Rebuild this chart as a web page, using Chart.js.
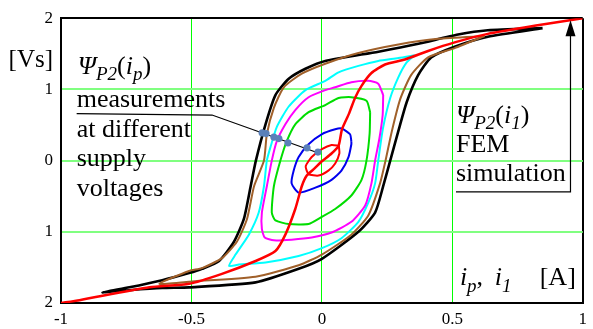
<!DOCTYPE html>
<html>
<head>
<meta charset="utf-8">
<script src="https://cdn.jsdelivr.net/npm/chart.js@4/dist/chart.umd.min.js"></script>
<style>
html,body{margin:0;padding:0;background:#fff;}
#wrap{width:593px;height:329px;position:relative;}
</style>
</head>
<body>
<div id="wrap"><canvas id="c" width="593" height="329"></canvas></div>
<script>
// ---- tick labels ----
const xTickLabels = ['-1', '-0.5', '0', '0.5', '1'];
const yTickLabels = ['2', '1', '0', '1', '2'];

// ---- measured hysteresis loops [i_p, psi] ----
const blackLoop = [[0.846,1.86],[0.636,1.83],[0.522,1.77],[0.370,1.64],[0.217,1.53],[0.013,1.40],[-0.063,1.29],[-0.127,1.15],[-0.178,0.92],[-0.216,0.51],[-0.253,0],[-0.273,-0.36],[-0.299,-0.82],[-0.337,-1.14],[-0.394,-1.41],[-0.459,-1.52],[-0.509,-1.58],[-0.612,-1.68],[-0.738,-1.78],[-0.841,-1.85],
  [-0.738,-1.82],[-0.612,-1.79],[-0.509,-1.78],[-0.254,-1.71],[-0.089,-1.52],[0,-1.38],[0.140,-1.00],[0.204,-0.73],[0.235,-0.36],[0.262,0],[0.292,0.40],[0.325,0.82],[0.369,1.20],[0.419,1.45],[0.509,1.60],[0.636,1.74],[0.846,1.86]];
const brownLoop = [[0.624,1.75],[0.445,1.71],[0.293,1.63],[0.140,1.51],[0.013,1.36],[-0.077,1.22],[-0.146,1.03],[-0.184,0.74],[-0.211,0.37],[-0.222,0],[-0.260,-0.36],[-0.287,-0.82],[-0.326,-1.14],[-0.383,-1.37],[-0.459,-1.51],[-0.509,-1.55],[-0.623,-1.73],
  [-0.509,-1.70],[-0.254,-1.63],[-0.089,-1.47],[0,-1.32],[0.113,-1.04],[0.178,-0.77],[0.223,-0.32],[0.244,0],[0.268,0.41],[0.300,0.86],[0.342,1.20],[0.407,1.45],[0.509,1.58],[0.624,1.75]];
const cyanLoop = [[0.356,1.48],[0.293,1.44],[0.216,1.40],[0.140,1.33],[0.064,1.24],[0.013,1.12],[-0.063,0.99],[-0.127,0.76],[-0.173,0.47],[-0.197,0.19],[-0.211,0],[-0.222,-0.36],[-0.242,-0.73],[-0.280,-1.04],[-0.331,-1.32],[-0.356,-1.48],
  [-0.318,-1.46],[-0.216,-1.43],[-0.089,-1.34],[0,-1.23],[0.075,-1.09],[0.140,-0.86],[0.178,-0.59],[0.204,-0.32],[0.216,0],[0.234,0.45],[0.262,0.88],[0.293,1.17],[0.323,1.37],[0.356,1.48]];
const magentaLoop = [[0.235,0.92],[0.216,1.08],[0.178,1.12],[0.113,1.10],[0.051,1.03],[0.013,0.99],[-0.051,0.89],[-0.102,0.71],[-0.140,0.51],[-0.173,0.27],[-0.192,0],[-0.211,-0.36],[-0.230,-0.73],[-0.230,-0.96],[-0.219,-1.08],[-0.184,-1.12],[-0.116,-1.11],[-0.039,-1.08],[0.037,-1.01],[0.113,-0.86],[0.166,-0.63],[0.190,-0.32],[0.204,0],[0.220,0.30],[0.233,0.64],[0.235,0.92]];
const greenLoop = [[0.185,0.68],[0.171,0.84],[0.113,0.89],[0.064,0.88],[0.013,0.78],[-0.051,0.68],[-0.102,0.51],[-0.135,0.27],[-0.159,0],[-0.184,-0.36],[-0.192,-0.73],[-0.178,-0.84],[-0.127,-0.89],[-0.051,-0.89],[0,-0.79],[0.051,-0.68],[0.113,-0.49],[0.152,-0.27],[0.171,0],[0.183,0.38],[0.185,0.68]];
const blueLoop = [[0.113,0.27],[0.108,0.37],[0.076,0.45],[0.051,0.44],[-0.001,0.37],[-0.051,0.23],[-0.089,0.05],[-0.108,-0.14],[-0.116,-0.32],[-0.089,-0.45],[-0.025,-0.38],[0.037,-0.27],[0.075,-0.14],[0.102,0.05],[0.113,0.23],[0.113,0.27]];
const redLoop = [[0.065,0.21],[0.037,0.22],[0,0.16],[-0.039,0.05],[-0.062,-0.08],[-0.051,-0.19],[-0.013,-0.21],[0.025,-0.14],[0.051,-0.04],[0.067,0.10],[0.065,0.21]];

// ---- FEM simulation psi(i1) ----
const femCurve = [[-1,-2],[-0.929,-1.96],[-0.661,-1.78],[-0.509,-1.73],[-0.383,-1.59],[-0.254,-1.41],[-0.178,-1.27],[-0.140,-1.04],[-0.102,-0.68],[-0.077,-0.36],[-0.058,-0.21],[-0.028,-0.11],[0,-0.01],[0.037,0.10],[0.064,0.21],[0.077,0.44],[0.104,0.66],[0.127,0.88],[0.152,1.05],[0.190,1.23],[0.242,1.35],[0.318,1.42],[0.407,1.54],[0.509,1.66],[0.636,1.78],[0.827,1.90],[1,2]];

// ---- annotation marks (data coordinates) ----
const pointerLine = [[-0.940,0.66],[-0.421,0.64],[-0.016,0.11]];
const pointerDots = [[-0.229,0.39],[-0.214,0.38],[-0.184,0.33],[-0.165,0.31],[-0.130,0.25],[-0.057,0.18],[-0.015,0.12]];
const femLeader = [[0.514,-0.438],[0.953,-0.438],[0.953,1.75]];
const femArrowTip = [0.953, 1.97];

const toXY = a => a.map(p => ({x: p[0], y: p[1]}));
function loop(data, color, w, order) {
  return {data: toXY(data), borderColor: color, borderWidth: w, showLine: true, pointRadius: 0, tension: 0.2, fill: false, order: order};
}

const SERIF = '"Liberation Serif", "Times New Roman", serif';
const textNotes = [
  {x:-0.936, y:1.22, segs:[{t:'\u03A8',it:1},{t:'P2',it:1,sub:1},{t:'('},{t:'i',it:1},{t:'p',it:1,sub:1},{t:')'}]},
  {x:-0.940, y:0.753, segs:[{t:'measurements'}]},
  {x:-0.940, y:0.329, segs:[{t:'at different'}]},
  {x:-0.940, y:-0.082, segs:[{t:'supply'}]},
  {x:-0.940, y:-0.493, segs:[{t:'voltages'}]},
  {x:0.514, y:0.534, segs:[{t:'\u03A8',it:1},{t:'P2',it:1,sub:1},{t:'('},{t:'i',it:1},{t:'1',it:1,sub:1},{t:')'}]},
  {x:0.514, y:0.123, segs:[{t:'FEM'}]},
  {x:0.514, y:-0.288, segs:[{t:'simulation'}]},
  {x:0.529, y:-1.753, segs:[{t:'i',it:1},{t:'p',it:1,sub:1},{t:','}]},
  {x:0.663, y:-1.753, segs:[{t:'i',it:1},{t:'1',it:1,sub:1}]},
  {x:0.835, y:-1.753, segs:[{t:'[A]'}]}
];

function drawRich(ctx, x, y, segs, size) {
  let cx = x;
  for (const s of segs) {
    const fs = s.sub ? Math.round(size * 0.74) : size;
    ctx.font = (s.it ? 'italic ' : '') + fs + 'px ' + SERIF;
    ctx.fillText(s.t, cx, y + (s.sub ? size * 0.24 : 0));
    cx += ctx.measureText(s.t).width;
  }
}

const notesPlugin = {
  id: 'notes',
  afterDatasetsDraw(chart) {
    const ctx = chart.ctx, xs = chart.scales.x, ys = chart.scales.y;
    ctx.save();
    ctx.fillStyle = '#000';
    ctx.textBaseline = 'alphabetic';
    ctx.textAlign = 'left';
    for (const n of textNotes) {
      drawRich(ctx, xs.getPixelForValue(n.x), ys.getPixelForValue(n.y), n.segs, 26);
    }
    ctx.textAlign = 'right';
    ctx.font = '25px ' + SERIF;
    ctx.fillText('[Vs]', chart.chartArea.left - 8, ys.getPixelForValue(1.315));
    const px = xs.getPixelForValue(femArrowTip[0]), py = ys.getPixelForValue(femArrowTip[1]);
    ctx.beginPath();
    ctx.moveTo(px, py);
    ctx.lineTo(px - 5, py + 16);
    ctx.lineTo(px + 5, py + 16);
    ctx.closePath();
    ctx.fill();
    ctx.restore();
  }
};

new Chart(document.getElementById('c'), {
  type: 'scatter',
  data: {
    datasets: [
      {data: toXY(pointerDots), pointRadius: 3.6, pointBackgroundColor: '#5b80b9', pointBorderWidth: 0, showLine: false, order: 0},
      {data: toXY(pointerLine), borderColor: '#000', borderWidth: 1.2, showLine: true, pointRadius: 0, tension: 0, order: 1},
      {data: toXY(femLeader), borderColor: '#000', borderWidth: 1.2, showLine: true, pointRadius: 0, tension: 0, order: 2},
      loop(femCurve, '#ff0000', 2.5, 3),
      loop(redLoop, '#ff0000', 2, 4),
      loop(blueLoop, '#0000ee', 2, 5),
      loop(greenLoop, '#00dd00', 2, 6),
      loop(magentaLoop, '#ff00ff', 2, 7),
      loop(cyanLoop, '#00ffff', 2, 8),
      loop(brownLoop, '#a0602a', 2, 9),
      loop(blackLoop, '#000000', 2.6, 10)
    ]
  },
  options: {
    responsive: false,
    animation: false,
    events: [],
    layout: {padding: {top: 11, right: 8, left: 0, bottom: 0}},
    plugins: {legend: {display: false}, tooltip: {enabled: false}},
    scales: {
      x: {
        type: 'linear', min: -1, max: 1,
        afterFit: s => { s.height = 26; },
        ticks: {stepSize: 0.5, padding: 6, color: '#000', font: {family: SERIF, size: 17},
          callback: (v, i) => xTickLabels[i]},
        grid: {drawTicks: false,
          color: c => (c.tick && Math.abs(c.tick.value) === 1) ? '#000' : '#00ff00',
          lineWidth: c => (c.tick && Math.abs(c.tick.value) === 1) ? 2 : 1},
        border: {display: true, color: '#000', width: 2}
      },
      y: {
        type: 'linear', min: -2, max: 2,
        afterFit: s => { s.width = 61; },
        ticks: {stepSize: 1, padding: 8, color: '#000', font: {family: SERIF, size: 17},
          callback: (v, i) => yTickLabels[i]},
        grid: {drawTicks: false,
          color: c => (c.tick && Math.abs(c.tick.value) === 2) ? '#000' : '#80ff80',
          lineWidth: 2},
        border: {display: true, color: '#000', width: 2}
      }
    }
  },
  plugins: [notesPlugin]
});
</script>
</body>
</html>
